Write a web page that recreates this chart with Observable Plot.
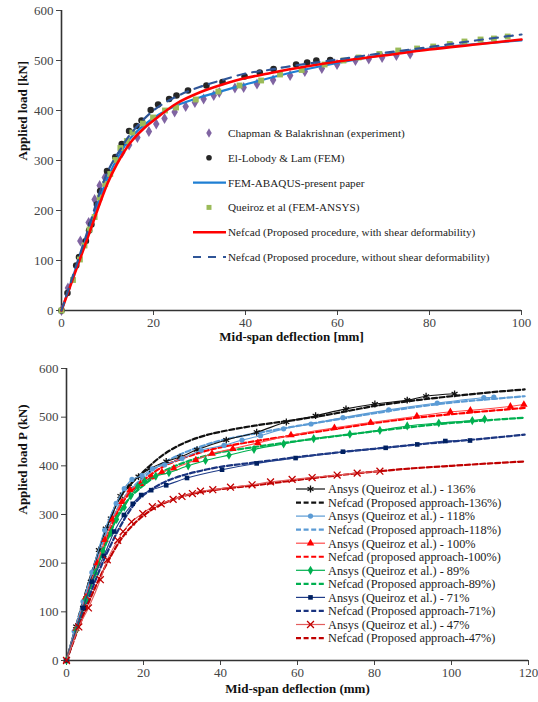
<!DOCTYPE html>
<html><head><meta charset="utf-8">
<script src="https://cdn.jsdelivr.net/npm/d3@7"></script>
<script src="https://cdn.jsdelivr.net/npm/@observablehq/plot@0.6"></script>
<style>
body{margin:0;background:#fff;}
#wrap{position:relative;width:538px;height:702px;font-family:"Liberation Serif",serif;}
#wrap svg{display:block;}
#wrap svg text{font-family:"Liberation Serif",serif !important;}
#legend{position:absolute;left:0;top:0;pointer-events:none;}
</style></head><body><div id="wrap"></div>
<script>
// ---------- DATA: top chart ----------
const topXTicks = [0, 20, 40, 60, 80, 100];
const yTicks = [0, 100, 200, 300, 400, 500, 600];
const chapman = [[0,0],[1.4,45],[4.1,139],[5.9,176],[7.2,222],[8.3,250],[9.4,266],[13.2,316],[14.7,331],[16.5,346],[19,358],[20.6,373],[22.4,384],[24.6,397],[27,408],[29,416],[30.9,423],[33.1,430],[34.3,436],[37.7,445],[39.6,446],[42.5,453],[46,461],[49.7,470],[52.9,478],[56.6,484],[59.9,492],[63.9,500],[66.8,503],[69.7,506],[72.8,510],[75.8,513]];
const elLobody = [[0,0],[1.3,35],[3.2,90],[3.8,107],[5.3,139],[6,160],[6.5,172],[7.7,212],[8.4,239],[9.9,279],[11.7,307],[13.1,333],[14.7,359],[16.3,369],[17.4,380],[19.4,401],[21,412],[23.4,423],[25,430],[27.5,440],[31.5,450],[35,457],[39.8,468],[43.1,476],[46.1,483],[51,492],[53.4,496],[55.4,500],[58.4,501]];
const queiroz = [[0,0],[2.5,61],[4,102],[5,130],[6.1,162],[7.2,187],[8.3,226],[9.5,253],[10.6,273],[11.7,301],[12.8,325],[14.2,339],[15.4,356],[17.7,374],[19.9,386],[22.5,400],[24.9,406],[29.2,422],[34.1,438],[38.7,450],[43.4,460],[47.5,472],[52.2,481],[57.2,492],[61.3,500],[64.6,506],[69.1,513],[73.2,520],[77.3,524],[80.8,528],[84.4,533],[87.6,538],[91.1,542],[94,544],[97,548]];
const abaqus = [[0,0],[5,135],[10,265],[13,318],[15,345],[20,385],[25,410],[30,426],[40,452],[50,476],[60,495],[70,511],[80,524],[90,533],[100,540]];
const nefcadShear = [[0,0],[5,128],[10,254],[12,292],[15,336],[18,365],[20,380],[25,414],[30,436],[35,452],[40,465],[45,474],[50,483],[60,498],[70,510],[80,522],[90,532],[100,542]];
const nefcadNoShear = [[0,0],[5,140],[10,277],[13,325],[15,353],[20,400],[25,428],[30,447],[35,461],[40,474],[45,481],[50,489],[60,502],[70,515],[80,527],[90,540],[100,552]];
const topLabels = ["Chapman & Balakrishnan (experiment)","El-Lobody & Lam (FEM)","FEM-ABAQUS-present paper","Queiroz et al (FEM-ANSYS)","Nefcad (Proposed procedure, with shear deformability)","Nefcad (Proposed procedure, without shear deformability)"];

// ---------- DATA: bottom chart ----------
const botXTicks = [0, 20, 40, 60, 80, 100, 120];
const a136 = [[0,0],[2.5,70],[4.3,108],[6.3,162],[8.4,227],[10.2,271],[11.5,292],[14,338],[16.2,357],[18.7,378],[21.6,394],[25.9,409],[29.5,418],[33.9,433],[41.5,453],[49.4,469],[57.1,490],[64.7,503],[72.6,517],[80.1,527],[88.5,535],[93.4,543],[100.8,548]];
const n136 = [[0,0],[5,140],[10,262],[13,322],[15,348],[20,388],[25,422],[30,445],[35,460],[40,470],[50,484],[60,495],[70,508],[80,523],[90,534],[100,543],[110,551],[119,557]];
const a118 = [[0,0],[2,60],[4.3,121],[6.6,181],[9.9,268],[12.9,323],[15,353],[17,372],[19.6,380],[22.3,394],[25.5,402],[30,415],[35,432],[40.9,442],[45.6,453],[50.4,462],[56.4,476],[63.5,486],[71.8,499],[83.7,515],[96.3,529],[108.4,540],[111,541]];
const n118 = [[0,0],[5,135],[10,255],[15,335],[20,376],[25,405],[30,425],[35,440],[40,452],[50,468],[60,482],[70,495],[80,508],[90,520],[100,530],[110,537],[119,543]];
const a100 = [[0,0],[2.5,65],[5,130],[8,200],[10,248],[12,290],[14.4,326],[16.5,350],[19.2,363],[22.1,377],[24.8,387],[27.9,395],[33.6,412],[37.8,425],[43.2,435],[49.7,447],[58.3,463],[69.6,478],[79,489],[91,502],[99.7,511],[104.9,514],[115.3,522],[118.8,526]];
const n100 = [[0,0],[5,125],[10,240],[15,330],[20,370],[25,398],[30,415],[35,428],[40,438],[50,452],[60,464],[70,476],[80,488],[90,498],[100,506],[110,513],[119,519]];
const a89 = [[0,0],[2.5,62],[5,125],[7.5,180],[9.5,225],[11.5,262],[13,290],[15,315],[16.7,338],[18.5,357],[20.3,368],[23.2,379],[26.6,386],[31.6,400],[36.1,411],[42.2,422],[48.7,434],[56.4,445],[64.2,456],[73.6,465],[81.4,473],[88.5,482],[96.7,488],[105.4,493],[108.6,496]];
const n89 = [[0,0],[5,120],[10,235],[15,320],[20,360],[25,388],[30,405],[35,418],[40,428],[50,440],[60,451],[70,461],[80,471],[90,480],[100,488],[110,494],[119,499]];
const a71 = [[0,0],[4.3,108],[6.6,162],[9.7,215],[12.4,265],[14.9,299],[17.2,322],[19.4,340],[22,350],[25.9,360],[31.3,375],[40.4,392],[49.4,405],[59.5,416],[71.8,429],[82.9,437],[91.1,444],[98.4,451],[104.8,452]];
const n71 = [[0,0],[5,112],[10,212],[15,290],[18,325],[20,340],[25,365],[30,380],[35,390],[40,398],[50,408],[60,418],[70,427],[80,435],[90,443],[100,450],[110,457],[119,464]];
const a47 = [[0,0],[3.2,69],[5.7,108],[8.8,166],[10.6,207],[13.3,247],[14.7,265],[16.9,285],[19.8,302],[22.3,316],[24.6,322],[27.7,331],[30,337],[32.7,343],[34.8,348],[38,351],[42.6,356],[48.2,361],[53,367],[58.6,372],[63.8,376],[70.3,381],[75.5,385],[81.4,389]];
const n47 = [[0,0],[5,105],[10,192],[15,258],[20,298],[25,322],[30,337],[35,346],[40,352],[50,361],[60,371],[70,380],[80,388],[90,395],[100,400],[110,405],[119,409]];
const botLabels = ["Ansys (Queiroz et al.) - 136%","Nefcad (Proposed approach-136%)","Ansys (Queiroz et al.) - 118%","Nefcad (Proposed approach-118%)","Ansys (Queiroz et al.) - 100%","Nefcad (proposed approach-100%)","Ansys (Queiroz et al.) - 89%","Nefcad (Proposed approach-89%)","Ansys (Queiroz et al.) - 71%","Nefcad (Proposed approach-71%)","Ansys (Queiroz et al.) - 47%","Nefcad (Proposed approach-47%)"];

// ---------- STYLES ----------
const font = '"Liberation Serif", serif';
const X = d => d[0], Y = d => d[1];
const wrap = document.getElementById("wrap");

const topStyles = [
  {type:"dot", symbol:"diamond", fill:"#8064a2", r:3.4},
  {type:"dot", symbol:"circle", fill:"#262626", r:3.3},
  {type:"line", stroke:"#1f7fd3", width:2.2},
  {type:"dot", symbol:"square", fill:"#9bbb59", r:3.3},
  {type:"line", stroke:"#ff0000", width:2.6},
  {type:"dash", stroke:"#2f5597", width:2.2, dash:"8,7"}
];

const chartA = Plot.plot({
  width: 538, height: 350,
  marginLeft: 61, marginRight: 17, marginTop: 10, marginBottom: 40,
  style: {fontFamily: font, fontSize: "13px", color: "#444", background: "#fff"},
  x: {domain: [0, 100]},
  y: {domain: [0, 600]},
  marks: [
    Plot.axisX({ticks: topXTicks, tickSize: 5, tickPadding: 2, label: null}),
    Plot.axisY({ticks: yTicks, tickSize: 5, tickPadding: 3, label: null}),
    Plot.ruleX([0], {stroke: "#333", strokeWidth: 1.6}),
    Plot.ruleY([0], {stroke: "#333", strokeWidth: 1.6}),
    Plot.dot(chapman, {x: X, y: Y, symbol: topStyles[0].symbol, fill: topStyles[0].fill, r: topStyles[0].r}),
    Plot.dot(elLobody, {x: X, y: Y, symbol: topStyles[1].symbol, fill: topStyles[1].fill, r: topStyles[1].r}),
    Plot.line(abaqus, {x: X, y: Y, stroke: topStyles[2].stroke, strokeWidth: topStyles[2].width, curve: "catmull-rom"}),
    Plot.dot(queiroz, {x: X, y: Y, symbol: topStyles[3].symbol, fill: topStyles[3].fill, r: topStyles[3].r}),
    Plot.line(nefcadShear, {x: X, y: Y, stroke: topStyles[4].stroke, strokeWidth: topStyles[4].width, curve: "catmull-rom"}),
    Plot.line(nefcadNoShear, {x: X, y: Y, stroke: topStyles[5].stroke, strokeWidth: topStyles[5].width, strokeDasharray: topStyles[5].dash, curve: "catmull-rom"}),
    Plot.text(["Mid-span deflection [mm]"], {frameAnchor: "bottom", dy: 30, fontWeight: "bold", fontSize: 13, fill: "#111"}),
    Plot.text(["Applied load [kN]"], {frameAnchor: "left", dx: -39, rotate: -90, fontWeight: "bold", fontSize: 13, fill: "#111"})
  ]
});
wrap.appendChild(chartA);

const botStyles = [
  {type:"ansys", symbol:"asterisk", color:"#111", line:"#111", r:3.2, stroke:true},
  {type:"dash", color:"#111"},
  {type:"ansys", symbol:"circle", color:"#5b9bd5", line:"#5b9bd5", r:2.6},
  {type:"dash", color:"#5b9bd5"},
  {type:"ansys", symbol:"triangle", color:"#ff0000", line:"#ff4a4a", r:2.8},
  {type:"dash", color:"#ff0000"},
  {type:"ansys", symbol:"diamond", color:"#00b050", line:"#00b050", r:2.8},
  {type:"dash", color:"#00b050"},
  {type:"ansys", symbol:"square", color:"#002060", line:"#1f3c88", r:2.6},
  {type:"dash", color:"#1a3480"},
  {type:"ansys", symbol:"times", color:"#c00000", line:"#e35d5d", r:3.2, stroke:true},
  {type:"dash", color:"#c00000"}
];
const botSeries = [a136, n136, a118, n118, a100, n100, a89, n89, a71, n71, a47, n47];
const botDash = "5,2.6";

const botMarks = [
  Plot.axisX({ticks: botXTicks, tickSize: 5, tickPadding: 2, label: null}),
  Plot.axisY({ticks: yTicks, tickSize: 5, tickPadding: 3, label: null}),
  Plot.ruleX([0], {stroke: "#333", strokeWidth: 1.6}),
  Plot.ruleY([0], {stroke: "#333", strokeWidth: 1.6})
];
botSeries.forEach((s, i) => {
  const st = botStyles[i];
  if (st.type === "dash") {
    botMarks.push(Plot.line(s, {x: X, y: Y, stroke: st.color, strokeWidth: 2.2, strokeDasharray: botDash, curve: "catmull-rom"}));
  }
});
botSeries.forEach((s, i) => {
  const st = botStyles[i];
  if (st.type === "ansys") {
    botMarks.push(Plot.line(s, {x: X, y: Y, stroke: st.line, strokeWidth: 1.1, curve: "catmull-rom"}));
    if (st.stroke) botMarks.push(Plot.dot(s, {x: X, y: Y, symbol: st.symbol, stroke: st.color, strokeWidth: 1.3, r: st.r}));
    else botMarks.push(Plot.dot(s, {x: X, y: Y, symbol: st.symbol, fill: st.color, r: st.r}));
  }
});
botMarks.push(Plot.text(["Mid-span deflection (mm)"], {frameAnchor: "bottom", dy: 32, fontWeight: "bold", fontSize: 13, fill: "#111"}));
botMarks.push(Plot.text(["Applied load P (kN)"], {frameAnchor: "left", dx: -44, rotate: -90, fontWeight: "bold", fontSize: 13, fill: "#111"}));

const chartB = Plot.plot({
  width: 538, height: 352,
  marginLeft: 66, marginRight: 10, marginTop: 18, marginBottom: 42,
  style: {fontFamily: font, fontSize: "13px", color: "#444", background: "#fff"},
  x: {domain: [0, 120]},
  y: {domain: [0, 600]},
  marks: botMarks
});
wrap.appendChild(chartB);

// ---------- LEGENDS (overlay) ----------
const lg = d3.select(wrap).append("svg").attr("id", "legend")
  .attr("width", 538).attr("height", 702)
  .style("font-family", font);
const symMap = {circle: d3.symbolCircle, square: d3.symbolSquare, diamond: d3.symbolDiamond, triangle: d3.symbolTriangle, asterisk: d3.symbolAsterisk, times: d3.symbolTimes};
const symPath = (name, r) => d3.symbol(symMap[name], Math.PI * r * r)();

// top legend
topLabels.forEach((lab, i) => {
  const st = topStyles[i];
  const yy = 133 + i * 24.8;
  const g = lg.append("g");
  if (st.type === "dot") {
    g.append("path").attr("d", symPath(st.symbol, st.r * 0.85)).attr("transform", `translate(209,${yy})`).attr("fill", st.fill);
  } else {
    g.append("line").attr("x1", 193).attr("x2", 226).attr("y1", yy).attr("y2", yy)
      .attr("stroke", st.stroke).attr("stroke-width", st.width)
      .attr("stroke-dasharray", st.dash || null);
  }
  g.append("text").attr("x", 228).attr("y", yy).attr("dy", "0.35em")
    .attr("font-size", 11.2).attr("fill", "#222").text(lab);
});

// bottom legend
botLabels.forEach((lab, i) => {
  const st = botStyles[i];
  const yy = 489 + i * 13.55;
  const g = lg.append("g");
  if (st.type === "ansys") {
    g.append("line").attr("x1", 296).attr("x2", 325).attr("y1", yy).attr("y2", yy)
      .attr("stroke", st.line).attr("stroke-width", 1.2);
    const p = g.append("path").attr("d", symPath(st.symbol, st.r)).attr("transform", `translate(310.5,${yy})`);
    if (st.stroke) p.attr("fill", "none").attr("stroke", st.color).attr("stroke-width", 1.3);
    else p.attr("fill", st.color);
  } else {
    g.append("line").attr("x1", 296).attr("x2", 325).attr("y1", yy).attr("y2", yy)
      .attr("stroke", st.color).attr("stroke-width", 2.2).attr("stroke-dasharray", botDash);
  }
  g.append("text").attr("x", 328).attr("y", yy).attr("dy", "0.35em")
    .attr("font-size", 12.3).attr("fill", "#222").text(lab);
});
</script>
</body></html>
